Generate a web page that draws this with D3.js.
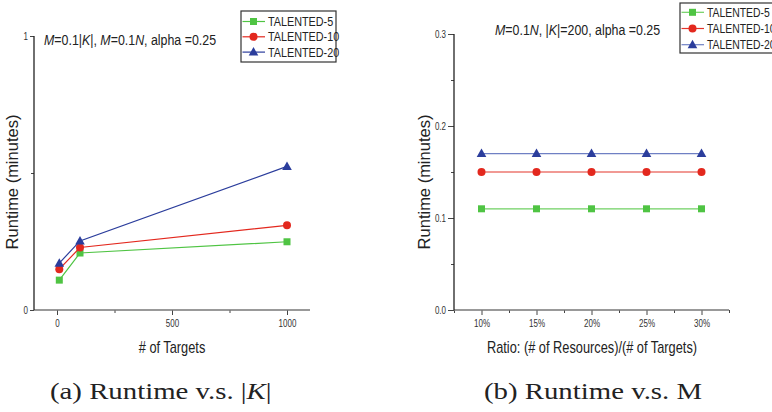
<!DOCTYPE html>
<html>
<head>
<meta charset="utf-8">
<script src="https://cdn.jsdelivr.net/npm/d3@7"></script>
<style>
  body { margin: 0; background: #fff; }
  svg { display: block; }
</style>
</head>
<body>
<div id="chart"></div>
<script>
const WIDTH = 772;
const HEIGHT = 412;

// (a) runtime vs |K|
const targets = [10, 100, 1000];
const kTal5 = [0.109, 0.208, 0.249];
const kTal10 = [0.149, 0.228, 0.309];
const kTal20 = [0.171, 0.252, 0.524];

// (b) runtime vs M
const ratios = [10, 15, 20, 25, 30];
const mTal5 = [0.11, 0.11, 0.11, 0.11, 0.11];
const mTal10 = [0.15, 0.15, 0.15, 0.15, 0.15];
const mTal20 = [0.17, 0.17, 0.17, 0.17, 0.17];

const seriesNames = ["TALENTED-5", "TALENTED-10", "TALENTED-20"];
const seriesColors = ["#4fc443", "#e3281e", "#2b3d9c"];
const lineColorsB = ["#6fd062", "#e3352b", "#6f80c4"];
const markers = ["square", "circle", "triangle"];

const NARROW = 0.8;
const SANS = "'Liberation Sans', Arial, sans-serif";

const svg = d3.select("#chart").append("svg")
    .attr("width", WIDTH)
    .attr("height", HEIGHT);

function marker(g, type, x, y, color) {
    if (type == "square") {
        g.append("rect").attr("x", x - 3.5).attr("y", y - 3.5)
            .attr("width", 7).attr("height", 7).attr("fill", color);
    } else if (type == "circle") {
        g.append("circle").attr("cx", x).attr("cy", y).attr("r", 4).attr("fill", color);
    } else {
        g.append("path")
            .attr("d", `M${x},${y - 5}L${x + 4.8},${y + 3.5}L${x - 4.8},${y + 3.5}Z`)
            .attr("fill", color);
    }
}

// narrow text, drawn with a horizontal squeeze
function narrowText(g, x, y, size, anchor) {
    return g.append("text")
        .attr("transform", `translate(${x},${y}) scale(${NARROW},1)`)
        .attr("text-anchor", anchor || "start")
        .style("font-family", SANS)
        .style("font-size", size + "px")
        .attr("fill", "#222");
}

function styleTicks(axisG) {
    axisG.select(".domain").remove();
    axisG.selectAll("line").attr("stroke", "#444");
    axisG.selectAll("text")
        .style("font-family", SANS)
        .style("font-size", "10px")
        .attr("fill", "#333");
}

function drawPanel(cfg) {
    const g = svg.append("g");
    const x = cfg.x, y = cfg.y;

    // x axis
    const xMajor = g.append("g").attr("transform", `translate(0,${y.range()[0]})`)
        .call(d3.axisBottom(x).tickValues(cfg.xTicks).tickSize(5).tickPadding(5)
            .tickSizeOuter(0).tickFormat(cfg.xFormat));
    styleTicks(xMajor);
    xMajor.selectAll("text").attr("transform", `scale(${NARROW},1)`);
    const xMinor = g.append("g").attr("transform", `translate(0,${y.range()[0]})`)
        .call(d3.axisBottom(x).tickValues(cfg.xMinor).tickSize(3).tickSizeOuter(0).tickFormat(""));
    styleTicks(xMinor);

    // y axis
    const yMajor = g.append("g").attr("transform", `translate(${x.range()[0]},0)`)
        .call(d3.axisLeft(y).tickValues(cfg.yTicks).tickSize(cfg.yTickLen).tickPadding(0)
            .tickSizeOuter(0).tickFormat(cfg.yFormat));
    styleTicks(yMajor);
    yMajor.selectAll("text")
        .attr("x", -(cfg.yTickLen + 2) / NARROW)
        .attr("transform", `scale(${NARROW},1)`);
    const yMinor = g.append("g").attr("transform", `translate(${x.range()[0]},0)`)
        .call(d3.axisLeft(y).tickValues(cfg.yMinor).tickSize(3).tickSizeOuter(0).tickFormat(""));
    styleTicks(yMinor);

    g.append("line")
        .attr("x1", x.range()[0]).attr("x2", x.range()[1])
        .attr("y1", y.range()[0]).attr("y2", y.range()[0])
        .attr("stroke", "#777").attr("stroke-width", 1.5);
    g.append("line")
        .attr("x1", x.range()[0]).attr("x2", x.range()[0])
        .attr("y1", y.range()[0]).attr("y2", y.range()[1])
        .attr("stroke", "#222").attr("stroke-width", 1.3);

    // lines and markers
    const line = d3.line().x((d) => x(d[0])).y((d) => y(d[1]));
    cfg.series.forEach((vals, i) => {
        const pts = cfg.xs.map((v, j) => [v, vals[j]]);
        g.append("path").datum(pts)
            .attr("d", line)
            .attr("fill", "none")
            .attr("stroke", cfg.lineColors[i])
            .attr("stroke-width", 1.2);
        pts.forEach((p) => marker(g, markers[i], x(p[0]), y(p[1]), seriesColors[i]));
    });

    // axis titles
    narrowText(g, cfg.xLabelX, 353, 16, "middle").text(cfg.xLabel);
    g.append("text")
        .attr("transform", `translate(${cfg.yLabelX},182) rotate(-90)`)
        .attr("text-anchor", "middle")
        .style("font-family", SANS)
        .style("font-size", "16.5px")
        .attr("fill", "#222")
        .text("Runtime (minutes)");

    // annotation
    const note = narrowText(g, cfg.noteX, cfg.noteY, 15.5);
    cfg.note.forEach((p) => {
        note.append("tspan").style("font-style", p[1] ? "italic" : "normal").text(p[0]);
    });

    // legend
    const lg = g.append("g");
    lg.append("rect")
        .attr("x", cfg.legX).attr("y", cfg.legY)
        .attr("width", 95).attr("height", cfg.legH)
        .attr("fill", "#fff").attr("stroke", "#333").attr("stroke-width", 1.2);
    seriesNames.forEach((name, i) => {
        const ly = cfg.legY + cfg.legFirst + i * cfg.legStep;
        lg.append("line")
            .attr("x1", cfg.legX + 1.5).attr("x2", cfg.legX + 24)
            .attr("y1", ly).attr("y2", ly)
            .attr("stroke", cfg.lineColors[i]).attr("stroke-width", 1.2);
        marker(lg, markers[i], cfg.legX + 12.5, ly, seriesColors[i]);
        narrowText(lg, cfg.legX + 27, ly + 4.5, cfg.legFont).text(name);
    });
}

drawPanel({
    x: d3.scaleLinear().domain([-100, 1100]).range([34, 310]),
    y: d3.scaleLinear().domain([0, 1]).range([310, 36]),
    xs: targets,
    series: [kTal5, kTal10, kTal20],
    lineColors: seriesColors,
    xTicks: [0, 500, 1000],
    xMinor: [250, 750],
    xFormat: d3.format("d"),
    yTicks: [0, 1],
    yMinor: [0.5],
    yTickLen: 4,
    yFormat: d3.format("d"),
    xLabel: "# of Targets",
    xLabelX: 172,
    yLabelX: 18,
    note: [["M", true], ["=0.1|", false], ["K", true], ["|, ", false], ["M", true],
           ["=0.1", false], ["N", true], [", alpha =0.25", false]],
    noteX: 44, noteY: 45,
    legX: 241, legY: 11, legH: 51, legFirst: 10.5, legStep: 15.3, legFont: 13.5
});

drawPanel({
    x: d3.scaleLinear().domain([7.5, 32.5]).range([454, 729]),
    y: d3.scaleLinear().domain([0, 0.3]).range([310, 34]),
    xs: ratios,
    series: [mTal5, mTal10, mTal20],
    lineColors: lineColorsB,
    xTicks: ratios,
    xMinor: [7.5, 12.5, 17.5, 22.5, 27.5, 32.5],
    xFormat: (d) => d + "%",
    yTicks: [0, 0.1, 0.2, 0.3],
    yMinor: [0.05, 0.15, 0.25],
    yTickLen: 6,
    yFormat: d3.format(".1f"),
    xLabel: "Ratio: (# of Resources)/(# of Targets)",
    xLabelX: 592,
    yLabelX: 430,
    note: [["M", true], ["=0.1", false], ["N", true], [", |", false], ["K", true],
           ["|=200, alpha =0.25", false]],
    noteX: 495, noteY: 35,
    legX: 680, legY: 3, legH: 50, legFirst: 9.3, legStep: 16.2, legFont: 13
});

// captions
const captions = [["(a) Runtime v.s. |", "K", "|", 50], ["(b) Runtime v.s. M", "", "", 484]];
captions.forEach((c) => {
    const t = svg.append("text")
        .attr("transform", `translate(${c[3]},399) scale(1.2,1)`)
        .style("font-family", "'Liberation Serif', 'Times New Roman', serif")
        .style("font-size", "24px")
        .attr("fill", "#222");
    t.append("tspan").text(c[0]);
    if (c[1]) {
        t.append("tspan").style("font-style", "italic").text(c[1]);
        t.append("tspan").text(c[2]);
    }
});
</script>
</body>
</html>
